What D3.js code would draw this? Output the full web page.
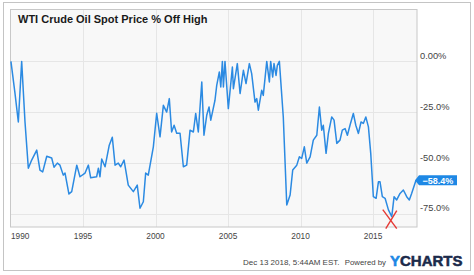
<!DOCTYPE html>
<html lang="en">
<head>
<meta charset="UTF-8">
<title>WTI Crude Oil Spot Price % Off High</title>
<script src="https://d3js.org/d3.v7.min.js"></script>
<style>
  body { margin: 0; background: #fff; }
  svg text { font-family: "Liberation Sans", Arial, sans-serif; }
</style>
</head>
<body>
<div id="chart"></div>
<script>
// values (decimal year, % off high)
var years = [1990.03,1990.31,1990.54,1990.77,1991.0,1991.23,1991.46,1991.81,1992.03,1992.22,1992.5,1992.84,1993.0,1993.23,1993.41,1993.64,1993.76,1994.03,1994.22,1994.57,1994.79,1995.14,1995.37,1995.53,1995.94,1996.06,1996.17,1996.29,1996.52,1996.81,1997.02,1997.21,1997.43,1997.6,1997.83,1998.12,1998.47,1998.74,1998.93,1999.16,1999.32,1999.5,1999.85,2000.08,2000.31,2000.54,2000.77,2000.95,2001.11,2001.28,2001.46,2001.69,2001.92,2002.15,2002.38,2002.61,2002.77,2002.95,2003.19,2003.34,2003.53,2003.69,2003.81,2004.1,2004.22,2004.4,2004.5,2004.61,2004.68,2004.79,2005.02,2005.3,2005.37,2005.64,2005.83,2006.06,2006.24,2006.47,2006.63,2006.86,2006.98,2007.09,2007.32,2007.43,2007.67,2007.85,2007.94,2008.08,2008.17,2008.31,2008.4,2008.54,2008.81,2009.05,2009.28,2009.46,2009.74,2009.92,2010.08,2010.26,2010.43,2010.66,2010.88,2011.12,2011.3,2011.46,2011.57,2011.76,2011.92,2012.15,2012.31,2012.5,2012.72,2012.88,2013.07,2013.23,2013.41,2013.64,2013.81,2013.99,2014.17,2014.33,2014.5,2014.68,2014.84,2015.02,2015.21,2015.37,2015.48,2015.64,2015.83,2016.06,2016.29,2016.45,2016.63,2016.86,2017.09,2017.32,2017.5,2017.66,2017.96];
var pctOff = [0,-15.7,-29.8,0,-29.8,-52.5,-48.5,-43.6,-53.4,-54.3,-46.6,-47.5,-52,-50,-51,-55.9,-54.9,-65.2,-64,-51,-56.7,-54.9,-51,-57.2,-56.7,-52.5,-56.7,-48,-51.8,-41.2,-37.3,-51,-50,-51.8,-48.5,-60.8,-64,-60.8,-72.2,-69,-54.9,-55.9,-42,-25.5,-37.1,-21.6,-24.9,-18.3,-34.7,-31.4,-35.3,-35.3,-51.8,-51,-33.8,-34.7,-25.6,-34.7,-10.1,-36.3,-26.5,-22.4,-28.9,-19.1,-11.8,-5.2,-12.6,0,-12.6,0,-23.2,-2.8,-13.4,-1.1,-15.8,-4.4,-10.9,-1.1,-6,-20,-18.3,-24,-14.2,-16.7,0,-10.1,0,-7.7,-1.1,-6.9,-2,0,-27.3,-70.6,-65.7,-53.4,-51,-46.9,-47.7,-42,-50,-46.9,-38.7,-36.3,-22.4,-33.8,-31.4,-45.2,-35.4,-27.3,-28.9,-40.3,-38.7,-33.8,-33,-36.3,-31.4,-25.6,-31.4,-35.4,-29.8,-30.5,-27.3,-32.2,-45.2,-66.5,-67.3,-59.2,-59.2,-66.5,-67.3,-73,-76.3,-66.5,-68.1,-64.9,-63.2,-66.5,-68.1,-64.9,-58.4];
var xTicks = [1990, 1995, 2000, 2005, 2010, 2015];
var yTicks = [0, -25, -50, -75];
var yTickLabels = ["0.00%", "-25.0%", "-50.0%", "-75.0%"];
var title = "WTI Crude Oil Spot Price % Off High";

var W = 474, H = 275;
var plot = {left: 10.5, right: 417, top: 9.5, bottom: 227};

var svg = d3.select('#chart').append('svg').attr('width', W).attr('height', H);

// outer frame
svg.append('rect').attr('x', 3.5).attr('y', 2.5).attr('width', 467).attr('height', 268)
   .attr('fill', '#fff').attr('stroke', '#c4c4c4');

var x = d3.scaleLinear().domain([1990, 2018.03]).range([plot.left, plot.right]);
var y = d3.scaleLinear().domain([-81.4, 25.5]).range([plot.bottom, plot.top]);

// plot background
svg.append('rect').attr('x', plot.left).attr('y', plot.top)
   .attr('width', plot.right - plot.left).attr('height', plot.bottom - plot.top)
   .attr('fill', '#f8f8f8');

// grid
svg.append('g').selectAll('line').data(yTicks).enter().append('line')
   .attr('x1', plot.left).attr('x2', plot.right)
   .attr('y1', function(d){ return Math.round(y(d)) + 0.5; })
   .attr('y2', function(d){ return Math.round(y(d)) + 0.5; })
   .attr('stroke', '#e6e6e6');
svg.append('g').selectAll('line').data(xTicks.slice(1)).enter().append('line')
   .attr('y1', plot.top).attr('y2', plot.bottom)
   .attr('x1', function(d){ return Math.round(x(d)) + 0.5; })
   .attr('x2', function(d){ return Math.round(x(d)) + 0.5; })
   .attr('stroke', '#e6e6e6');

// plot border
svg.append('rect').attr('x', plot.left).attr('y', plot.top)
   .attr('width', plot.right - plot.left).attr('height', plot.bottom - plot.top)
   .attr('fill', 'none').attr('stroke', '#c8c8c8');

// y labels
svg.append('g').selectAll('text').data(yTicks).enter().append('text')
   .attr('x', 420).attr('y', function(d){ return y(d) - 2.5; })
   .attr('font-size', 9.3).attr('fill', '#444')
   .text(function(d, i){ return yTickLabels[i]; });

// x labels
svg.append('g').selectAll('text').data(xTicks).enter().append('text')
   .attr('x', function(d, i){ return i == 0 ? 11 : x(d); })
   .attr('y', 239)
   .attr('text-anchor', function(d, i){ return i == 0 ? 'start' : 'middle'; })
   .attr('font-size', 8.3).attr('fill', '#444')
   .text(function(d){ return d; });

// title
svg.append('text').attr('x', 18).attr('y', 22.5)
   .attr('font-size', 11).attr('font-weight', 'bold').attr('fill', '#1a1a1a')
   .text(title);

// series line
var pts = years.map(function(d, i){ return [d, pctOff[i]]; });
var line = d3.line().x(function(d){ return x(d[0]); }).y(function(d){ return y(d[1]); });
svg.append('path').datum(pts).attr('d', line)
   .attr('fill', 'none').attr('stroke', '#2b8ae2').attr('stroke-width', 1.5)
   .attr('stroke-linejoin', 'round');

// red X at the 2016 low
var lowI = d3.minIndex(pctOff);
var cx = x(years[lowI]) - 2, cy = y(pctOff[lowI]) + 3;
svg.append('g').attr('stroke', '#e53935').attr('stroke-width', 1.4).attr('fill', 'none')
   .selectAll('line').data([[-7, -10, 7, 9], [7, -9, -4, 9]]).enter().append('line')
   .attr('x1', function(d){ return cx + d[0]; }).attr('y1', function(d){ return cy + d[1]; })
   .attr('x2', function(d){ return cx + d[2]; }).attr('y2', function(d){ return cy + d[3]; });

// last value flag
var last = pts[pts.length - 1];
var tx = x(last[0]) - 1, ty = y(last[1]);
svg.append('path')
   .attr('d', 'M' + tx + ',' + ty + 'L' + (tx + 4) + ',' + (ty - 5) + 'H' + (tx + 42) + 'V' + (ty + 5) + 'H' + (tx + 4) + 'Z')
   .attr('fill', '#1e88e5');
svg.append('text').attr('x', tx + 23).attr('y', ty + 3.3).attr('text-anchor', 'middle')
   .attr('font-size', 9).attr('font-weight', 'bold').attr('fill', '#fff')
   .text(d3.format('.1f')(last[1]) + '%');

// footer
svg.append('text').attr('x', 243).attr('y', 265)
   .attr('font-size', 8).attr('fill', '#444')
   .text('Dec 13 2018, 5:44AM EST.');
svg.append('text').attr('x', 386).attr('y', 265).attr('text-anchor', 'end')
   .attr('font-size', 7.8).attr('fill', '#444')
   .text('Powered by');
var logo = svg.append('text').attr('x', 390).attr('y', 266)
   .attr('font-size', 15).attr('font-weight', 'bold')
   .attr('stroke-width', 0.5);
logo.append('tspan').attr('fill', '#1e88e5').attr('stroke', '#1e88e5').text('Y');
logo.append('tspan').attr('fill', '#1b2a4a').attr('stroke', '#1b2a4a').text('CHARTS');
</script>
</body>
</html>
